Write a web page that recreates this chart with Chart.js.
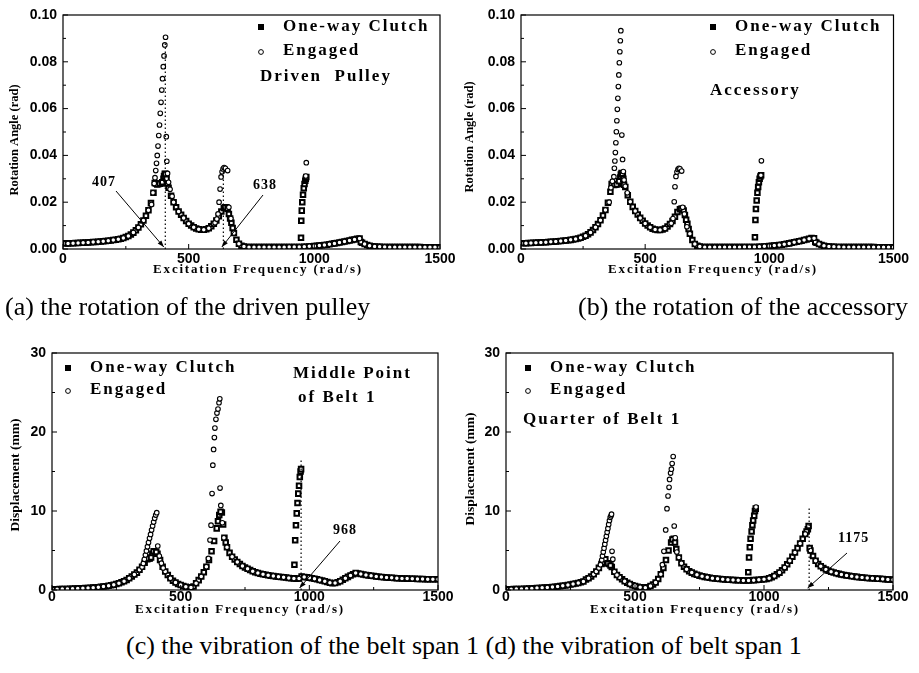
<!DOCTYPE html>
<html><head><meta charset="utf-8">
<script src="https://cdn.jsdelivr.net/npm/chart.js@4.4.1/dist/chart.umd.min.js"></script>
<style>
html,body{margin:0;padding:0;background:#fff;}
body{width:919px;height:673px;position:relative;overflow:hidden;}
canvas{position:absolute;}
.cap{position:absolute;font-family:"Liberation Serif","Times New Roman",serif;font-size:26px;color:#000;white-space:nowrap;line-height:30px;}
</style></head><body>
<canvas id="ca" width="460" height="282" style="left:0px;top:0px"></canvas>
<canvas id="cb" width="459" height="282" style="left:460px;top:0px"></canvas>
<canvas id="cc" width="460" height="300" style="left:0px;top:320px"></canvas>
<canvas id="cd" width="459" height="300" style="left:460px;top:320px"></canvas>
<div class="cap" style="left:5px;top:292px">(a) the rotation of the driven pulley</div>
<div class="cap" style="left:578px;top:292px">(b) the rotation of the accessory</div>
<div class="cap" style="left:126px;top:631px">(c) the vibration of the belt span 1 (d) the vibration of belt span 1</div>
<script>
// ---------- categories (excitation frequency, rad/s) ----------
const freq10 = [
10,20,30,40,50,60,70,80,90,100,
110,120,130,140,150,160,170,180,190,200,
210,220,230,240,250,260,270,280,290,300,
310,320,330,340,350,360,370,380,390,400,
410,420,430,440,450,460,470,480,490,500,
510,520,530,540,550,560,570,580,590,600,
610,620,630,640,650,660,670,680,690,700,
710,720,730,740,750,760,770,780,790,800,
810,820,830,840,850,860,870,880,890,900,
910,920,930,940,950,960,970,980,990,1000,
1010,1020,1030,1040,1050,1060,1070,1080,1090,1100,
1110,1120,1130,1140,1150,1160,1170,1180,1190,1200,
1210,1220,1230,1240,1250,1260,1270,1280,1290,1300,
1310,1320,1330,1340,1350,1360,1370,1380,1390,1400,
1410,1420,1430,1440,1450,1460,1470,1480,1490,1500];
const freq20 = [
20,40,60,80,100,120,140,160,180,200,
220,240,260,280,300,320,340,360,380,400,
420,440,460,480,500,520,540,560,580,600,
620,640,660,680,700,720,740,760,780,800,
820,840,860,880,900,920,940,960,980,1000,
1020,1040,1060,1080,1100,1120,1140,1160,1180,1200,
1220,1240,1260,1280,1300,1320,1340,1360,1380,1400,
1420,1440,1460,1480,1500];

// ---------- (a) driven pulley, rotation angle (rad) ----------
const clutchA = [
.0024,.0024,.0025,.0025,.0026,.0026,.0027,.0027,.0028,.0028,
.0029,.0030,.0030,.0031,.0032,.0033,.0034,.0035,.0036,.0038,
.0040,.0042,.0044,.0047,.0051,.0056,.0062,.0070,.0080,.0092,
.0106,.0122,.0142,.0166,.0196,.0240,.0280,.0278,.0280,.0300,
.0318,.0262,.0228,.0200,.0178,.0160,.0146,.0132,.0120,.0108,
.0100,.0093,.0088,.0084,.0082,.0082,.0084,.0089,.0097,.0108,
.0122,.0140,.0160,.0175,.0178,.0150,.0112,.0068,.0040,.0022,
.0014,.0011,.0009,.0008,.0008,.0008,.0008,.0008,.0008,.0008,
.0008,.0008,.0008,.0008,.0008,.0008,.0008,.0008,.0008,.0009,
.0009,.0009,.0009,.0009,.0009,.0010,.0010,.0011,.0012,.0013,
.0014,.0015,.0016,.0017,.0018,.0020,.0022,.0024,.0026,.0028,
.0030,.0032,.0034,.0036,.0039,.0041,.0044,.0045,.0027,.0021,
.0017,.0014,.0012,.0011,.0010,.0010,.0009,.0009,.0009,.0008,
.0008,.0008,.0008,.0008,.0008,.0008,.0008,.0008,.0008,.0008,
.0008,.0008,.0007,.0007,.0007,.0007,.0007,.0007,.0007,.0007];
const clutchExtraXA = [365,375,385,395,402,405,408,412,415, 645,655,665,675, 946,947,948,950,952,955,958,961,964,966,968, 1185];
const clutchExtraA  = [.0282,.0276,.0279,.0285,.0312,.0322,.0320,.0300,.0280, .0178,.0172,.0130,.0090, .0007,.0048,.0121,.0164,.0200,.0232,.0260,.0278,.0292,.0300,.0308, .0030];
const engagedA = [
.0024,.0025,.0026,.0027,.0028,.0030,.0031,.0033,.0035,.0038,
.0042,.0047,.0056,.0070,.0092,.0122,.0166,null,null,null,
null,.0200,.0160,.0132,.0108,.0093,.0084,.0082,.0089,.0108,
null,null,null,.0068,.0022,.0011,.0008,.0008,.0008,.0008,
.0008,.0008,.0008,.0008,.0009,.0009,.0009,.0010,.0012,.0013,
.0015,.0017,.0020,.0024,.0028,.0032,.0036,.0041,.0045,.0021,
.0014,.0011,.0010,.0009,.0008,.0008,.0008,.0008,.0008,.0008,
.0008,.0007,.0007,.0007,.0007];
const engagedPeakXA = [352,358,363,366,369,372,375,378,381,384,387,390,393,396,399,402,405,408,411,413,416,420,426,434,
  605,612,617,621,625,629,633,637,641,646,655,660,668, 966,968];
const engagedPeakA  = [.0190,.0240,.0280,.0305,.0335,.0366,.0400,.0440,.0485,.0530,.0580,.0627,.0679,.0728,.0779,.0825,.0872,.0905,.0480,.0375,.0323,.0285,.0255,.0225,
  .0112,.0128,.0150,.0200,.0256,.0308,.0330,.0342,.0348,.0345,.0335,.0178,.0130, .0312,.0369];

// ---------- (b) accessory, rotation angle (rad) ----------
const clutchB = [
.0025,.0025,.0026,.0026,.0027,.0027,.0028,.0028,.0029,.0029,
.0030,.0031,.0031,.0032,.0033,.0034,.0035,.0036,.0037,.0039,
.0041,.0043,.0045,.0048,.0052,.0057,.0063,.0071,.0081,.0093,
.0107,.0123,.0143,.0167,.0198,.0245,.0277,.0275,.0278,.0305,
.0322,.0265,.0230,.0202,.0180,.0162,.0147,.0133,.0121,.0109,
.0100,.0093,.0087,.0083,.0081,.0081,.0083,.0088,.0096,.0107,
.0120,.0138,.0158,.0170,.0172,.0145,.0108,.0065,.0038,.0021,
.0014,.0011,.0009,.0008,.0008,.0008,.0008,.0008,.0008,.0008,
.0008,.0008,.0008,.0008,.0008,.0008,.0008,.0008,.0008,.0009,
.0009,.0009,.0009,.0009,.0009,.0010,.0010,.0011,.0012,.0013,
.0014,.0015,.0016,.0017,.0018,.0020,.0022,.0024,.0027,.0029,
.0031,.0033,.0035,.0038,.0041,.0044,.0047,.0046,.0027,.0021,
.0017,.0014,.0012,.0011,.0010,.0010,.0009,.0009,.0009,.0008,
.0008,.0008,.0008,.0008,.0008,.0008,.0008,.0008,.0008,.0008,
.0008,.0008,.0007,.0007,.0007,.0007,.0007,.0007,.0007,.0007];
const clutchExtraXB = [365,375,385,395,402,405,408,412,415, 645,655,665,675, 940,942,944,946,949,952,955,958,961,964,967, 1185];
const clutchExtraB  = [.0278,.0274,.0276,.0290,.0318,.0325,.0322,.0300,.0275, .0172,.0165,.0125,.0085, .0006,.0050,.0124,.0171,.0207,.0240,.0265,.0285,.0300,.0310,.0315, .0030];
const engagedB = [
.0025,.0026,.0027,.0028,.0029,.0031,.0032,.0034,.0036,.0039,
.0043,.0048,.0057,.0071,.0093,.0123,.0167,null,null,null,
null,.0202,.0162,.0133,.0109,.0093,.0083,.0081,.0088,.0107,
null,null,null,.0065,.0021,.0011,.0008,.0008,.0008,.0008,
.0008,.0008,.0008,.0008,.0009,.0009,.0009,.0010,.0012,.0013,
.0015,.0017,.0020,.0024,.0029,.0033,.0038,.0044,.0046,.0021,
.0014,.0011,.0010,.0009,.0008,.0008,.0008,.0008,.0008,.0008,
.0008,.0007,.0007,.0007,.0007];
const engagedPeakXB = [355,362,368,374,376,378,380,382,384,386,388,390,392,394,396,398,400,402,406,409,412,415,420,428,
  605,612,617,620,624,628,632,636,640,647,651,658,668, 966,968];
const engagedPeakB  = [.0200,.0262,.0290,.0309,.0345,.0376,.0412,.0454,.0501,.0548,.0597,.0644,.0694,.0744,.0796,.0843,.0890,.0933,.0487,.0383,.0331,.0295,.0268,.0240,
  .0110,.0130,.0202,.0266,.0310,.0329,.0340,.0345,.0343,.0333,.0178,.0150,.0095, .0315,.0377];

// ---------- (c) middle point of belt 1, displacement (mm) ----------
const clutchC = [
0.10,0.10,0.11,0.12,0.13,0.14,0.15,0.16,0.18,0.20,
0.21,0.22,0.24,0.26,0.28,0.30,0.33,0.36,0.40,0.44,
0.48,0.53,0.59,0.66,0.75,0.85,0.97,1.11,1.28,1.48,
1.72,1.95,2.20,2.55,2.95,3.45,3.90,4.00,4.60,4.85,
4.60,3.80,2.95,2.35,1.90,1.50,1.18,0.95,0.76,0.62,
0.50,0.42,0.36,0.32,0.45,0.85,1.25,1.70,2.25,2.95,
3.80,4.90,6.20,7.80,9.50,9.80,6.60,5.40,4.70,4.20,
3.85,3.55,3.30,3.05,2.85,2.68,2.52,2.38,2.26,2.15,
2.06,1.98,1.92,1.86,1.80,1.76,1.72,1.68,1.64,1.60,
1.57,1.53,1.50,1.47,1.42,1.45,1.70,1.65,1.60,1.55,
1.50,1.43,1.36,1.28,1.20,1.10,1.00,0.92,0.86,0.88,
0.98,1.12,1.30,1.48,1.66,1.84,2.00,2.15,2.10,2.02,
1.96,1.90,1.85,1.80,1.76,1.72,1.68,1.65,1.62,1.59,
1.56,1.54,1.52,1.50,1.48,1.46,1.45,1.44,1.43,1.42,
1.41,1.40,1.39,1.38,1.37,1.37,1.36,1.36,1.35,1.35];
const clutchExtraXC = [375,385,395,405, 645,655,665,675, 942,945,948,951,954,957,960,963,966,968];
const clutchExtraC  = [4.0,4.1,4.9,4.8, 8.7,9.9,8.3,6.0, 3.2,6.3,8.2,9.7,11.0,12.2,13.2,14.3,15.0,15.3];
const engagedC = [
0.10,0.12,0.14,0.16,0.20,0.22,0.26,0.30,0.36,0.44,
0.53,0.66,0.85,1.11,1.48,1.95,2.55,null,null,null,
null,2.35,1.50,0.95,0.62,0.42,0.32,0.85,1.70,2.95,
null,null,null,5.40,4.20,3.55,3.05,2.68,2.38,2.15,
1.98,1.86,1.76,1.68,1.60,1.53,1.47,1.45,1.65,1.55,
1.43,1.28,1.10,0.92,0.88,1.12,1.48,1.84,2.15,2.02,
1.90,1.80,1.72,1.65,1.59,1.54,1.50,1.46,1.44,1.42,
1.40,1.38,1.37,1.36,1.35];
const engagedPeakXC = [350,355,359,363,367,371,375,379,383,387,391,395,399,403,407,411,417,425,432,
  600,608,614,618,622,625,628,631,633,637,641,645,649,652,653,656,662,668];
const engagedPeakC  = [2.90,3.37,3.88,4.43,4.94,5.49,6.00,6.54,7.04,7.59,8.10,8.60,9.07,9.49,9.79,5.57,4.30,3.40,2.80,
  2.95,4.00,6.33,8.20,12.2,15.8,17.8,19.3,20.5,21.6,22.4,22.9,23.7,24.2,12.9,10.7,8.50,6.60];

// ---------- (d) quarter of belt 1, displacement (mm) ----------
const clutchD = [
0.10,0.10,0.11,0.12,0.13,0.14,0.16,0.17,0.19,0.20,
0.22,0.24,0.26,0.28,0.30,0.32,0.35,0.38,0.41,0.45,
0.49,0.53,0.58,0.63,0.70,0.76,0.82,0.89,0.98,1.08,
1.32,1.50,1.72,2.00,2.35,2.80,3.30,3.60,3.40,3.30,
2.90,2.30,1.90,1.60,1.35,1.12,0.92,0.75,0.60,0.50,
0.42,0.36,0.32,0.30,0.36,0.50,0.70,0.95,1.40,2.00,
2.80,3.80,5.00,6.00,6.50,5.20,4.10,3.40,2.95,2.62,
2.38,2.20,2.04,1.92,1.82,1.74,1.66,1.60,1.54,1.50,
1.46,1.42,1.39,1.36,1.33,1.31,1.29,1.27,1.25,1.24,
1.22,1.21,1.20,1.20,1.22,1.25,1.28,1.30,1.32,1.35,
1.40,1.50,1.62,1.78,1.98,2.20,2.50,2.85,3.25,3.70,
4.20,4.75,5.30,5.90,6.50,7.10,7.70,5.00,4.30,3.70,
3.30,3.00,2.78,2.60,2.45,2.32,2.22,2.12,2.04,1.97,
1.90,1.84,1.79,1.74,1.70,1.66,1.62,1.59,1.56,1.53,
1.50,1.48,1.45,1.43,1.41,1.38,1.36,1.34,1.32,1.30];
const clutchExtraXD = [375,385,395,405, 645,655, 939,942,945,948,952,955,958,962,965,968, 1165,1173,1177];
const clutchExtraD  = [3.5,3.9,3.4,3.1, 6.4,6.0, 2.24,4.1,5.4,6.5,7.4,8.2,8.8,9.4,10.0,10.3, 7.4,8.1,5.3];
const engagedD = [
0.10,0.12,0.14,0.17,0.20,0.24,0.28,0.32,0.38,0.45,
0.53,0.63,0.76,0.89,1.08,1.50,2.00,null,null,null,
null,1.60,1.12,0.75,0.50,0.36,0.30,0.50,0.95,2.00,
null,null,null,3.40,2.62,2.20,1.92,1.74,1.60,1.50,
1.42,1.36,1.31,1.27,1.24,1.21,1.20,1.25,1.30,1.35,
1.50,1.78,2.20,2.85,3.70,4.75,5.90,7.10,5.00,3.70,
3.00,2.60,2.32,2.12,1.97,1.84,1.74,1.66,1.59,1.53,
1.48,1.43,1.38,1.34,1.30];
const engagedPeakXD = [350,360,366,371,374,377,380,383,386,389,392,395,398,401,404,407,409,411,414,420,430,
  600,606,612,619,624,628,632,634,638,641,644,648,652,656,662,670, 969];
const engagedPeakD  = [2.35,2.80,3.20,3.80,4.30,4.80,5.30,5.80,6.30,6.80,7.30,7.80,8.30,8.80,9.20,9.40,9.60,4.90,3.90,2.30,1.90,
  2.00,3.20,4.90,7.60,10.3,11.9,13.0,14.0,14.8,15.3,16.0,16.9,8.10,6.60,4.80,4.10, 10.5];

// ---------- tick values ----------
const xTickLabels = [0, 500, 1000, 1500];
const xMinorTicks = [250, 750, 1250];
const yTicksAngle = [0, 0.02, 0.04, 0.06, 0.08, 0.10];
const yMinorAngle = [0.01, 0.03, 0.05, 0.07, 0.09];
const yTicksDisp = [0, 10, 20, 30];
const yMinorDisp = [5, 15, 25];

function pts(xs, ys) {
  const out = [];
  for (let i = 0; i < xs.length && i < ys.length; i++) {
    if (ys[i] !== null && ys[i] !== undefined) out.push({x: xs[i], y: ys[i]});
  }
  return out;
}

const SERIF = '"Liberation Serif","Times New Roman",serif';
const SANS = '"Liberation Sans",Arial,sans-serif';

const panels = [
  { id:'ca', W:460, H:282, area:{left:63, top:15, right:440, bottom:249}, yMax:0.10, yTicks:yTicksAngle, yMinor:yMinorAngle, dec:2,
    clutch: pts(freq10, clutchA).concat(pts(clutchExtraXA, clutchExtraA)),
    engaged: pts(freq20, engagedA).concat(pts(engagedPeakXA, engagedPeakA)),
    xPad:2, yPad:6,
    yTitle:{text:'Rotation Angle (rad)', x:15, y:140, size:12.5},
    xTitle:{x:258, y:270},
    legend:{x:261, y1:27, y2:52},
    labels:[{text:'Driven  Pulley', x:260, y:77}],
    dotted:[{f:407, top:0.088}, {f:638, top:0.0345}],
    notes:[{text:'407', f:407, tx:92, ty:182, sx:116, sy:191}, {text:'638', f:638, tx:253, ty:185, sx:263, sy:195}] },
  { id:'cb', W:459, H:282, area:{left:61, top:15, right:433.5, bottom:249}, yMax:0.10, yTicks:yTicksAngle, yMinor:yMinorAngle, dec:2,
    clutch: pts(freq10, clutchB).concat(pts(clutchExtraXB, clutchExtraB)),
    engaged: pts(freq20, engagedB).concat(pts(engagedPeakXB, engagedPeakB)),
    xPad:2, yPad:6,
    yTitle:{text:'Rotation Angle (rad)', x:10, y:137, size:12.5},
    xTitle:{x:253, y:270},
    legend:{x:253, y1:27, y2:52},
    labels:[{text:'Accessory', x:250, y:91}],
    dotted:[], notes:[] },
  { id:'cc', W:460, H:300, area:{left:52, top:33, right:438, bottom:270}, yMax:30, yTicks:yTicksDisp, yMinor:yMinorDisp, dec:0,
    clutch: pts(freq10, clutchC).concat(pts(clutchExtraXC, clutchExtraC)),
    engaged: pts(freq20, engagedC).concat(pts(engagedPeakXC, engagedPeakC)),
    xPad:-1, yPad:6,
    yTitle:{text:'Displacement (mm)', x:16, y:155, size:13.5},
    xTitle:{x:240, y:290},
    legend:{x:68, y1:48, y2:71},
    labels:[{text:'Middle Point', x:293, y:54}, {text:'of Belt 1', x:298, y:78}],
    dotted:[{f:968, top:16.7}],
    notes:[{text:'968', f:968, tx:333, ty:210, sx:340, sy:221}] },
  { id:'cd', W:459, H:300, area:{left:46, top:33, right:433, bottom:270}, yMax:30, yTicks:yTicksDisp, yMinor:yMinorDisp, dec:0,
    clutch: pts(freq10, clutchD).concat(pts(clutchExtraXD, clutchExtraD)),
    engaged: pts(freq20, engagedD).concat(pts(engagedPeakXD, engagedPeakD)),
    xPad:-1, yPad:6,
    yTitle:{text:'Displacement (mm)', x:11, y:149, size:13.5},
    xTitle:{x:235, y:290},
    legend:{x:68, y1:48, y2:71},
    labels:[{text:'Quarter of Belt 1', x:63, y:100}],
    dotted:[{f:1175, top:10.5}],
    notes:[{text:'1175', f:1175, tx:378, ty:218, sx:387, sy:233}] }
];

function spaced(ctx, ls) { try { ctx.letterSpacing = ls + 'px'; } catch (e) {} }

function panelPlugin(p) {
  return {
    id: 'panel_' + p.id,
    afterDraw(chart) {
      const ctx = chart.ctx, a = chart.chartArea, xs = chart.scales.x, ys = chart.scales.y;
      const line = (x1, y1, x2, y2) => { ctx.beginPath(); ctx.moveTo(x1, y1); ctx.lineTo(x2, y2); ctx.stroke(); };
      ctx.save();
      ctx.strokeStyle = '#000'; ctx.fillStyle = '#000';
      ctx.lineWidth = 1.2;
      ctx.strokeRect(a.left, a.top, a.right - a.left, a.bottom - a.top);
      ctx.lineWidth = 1;
      xTickLabels.forEach(v => { const x = xs.getPixelForValue(v); line(x, a.bottom, x, a.bottom - 5); });
      xMinorTicks.forEach(v => { const x = xs.getPixelForValue(v); line(x, a.bottom, x, a.bottom - 3); });
      p.yTicks.forEach(v => { const y = ys.getPixelForValue(v); line(a.left, y, a.left + 5, y); });
      p.yMinor.forEach(v => { const y = ys.getPixelForValue(v); line(a.left, y, a.left + 3, y); });
      ctx.setLineDash([1.4, 2.6]); ctx.lineWidth = 1.2;
      p.dotted.forEach(d => { const x = xs.getPixelForValue(d.f); line(x, ys.getPixelForValue(0), x, ys.getPixelForValue(d.top)); });
      ctx.setLineDash([]);
      p.notes.forEach(n => {
        const tx = xs.getPixelForValue(n.f) - 1.5, ty = ys.getPixelForValue(0) - 2;
        ctx.lineWidth = 1;
        line(n.sx, n.sy, tx, ty);
        const ang = Math.atan2(ty - n.sy, tx - n.sx), L = 7, w = 0.35;
        ctx.beginPath(); ctx.moveTo(tx, ty);
        ctx.lineTo(tx - L * Math.cos(ang - w), ty - L * Math.sin(ang - w));
        ctx.lineTo(tx - L * Math.cos(ang + w), ty - L * Math.sin(ang + w));
        ctx.closePath(); ctx.fill();
        ctx.font = 'bold 14px ' + SERIF; spaced(ctx, 1);
        ctx.textAlign = 'left'; ctx.textBaseline = 'middle';
        ctx.fillText(n.text, n.tx, n.ty);
      });
      const lg = p.legend;
      ctx.fillRect(lg.x - 3, lg.y1 - 3, 6, 6);
      ctx.lineWidth = 1;
      ctx.beginPath(); ctx.arc(lg.x, lg.y2, 2.4, 0, Math.PI * 2); ctx.stroke();
      ctx.font = 'bold 17px ' + SERIF; spaced(ctx, 2);
      ctx.textAlign = 'left'; ctx.textBaseline = 'middle';
      ctx.fillText('One-way Clutch', lg.x + 22, lg.y1);
      ctx.fillText('Engaged', lg.x + 22, lg.y2 - 1);
      p.labels.forEach(l => ctx.fillText(l.text, l.x, l.y));
      ctx.font = 'bold 13px ' + SERIF; spaced(ctx, 1.8);
      ctx.textAlign = 'center';
      ctx.fillText('Excitation Frequency (rad/s)', p.xTitle.x, p.xTitle.y);
      spaced(ctx, 0);
      ctx.translate(p.yTitle.x, p.yTitle.y); ctx.rotate(-Math.PI / 2);
      ctx.font = 'bold ' + p.yTitle.size + 'px ' + SERIF;
      ctx.fillText(p.yTitle.text, 0, 0);
      ctx.restore();
    }
  };
}

panels.forEach(p => {
  new Chart(document.getElementById(p.id), {
    type: 'scatter',
    data: { datasets: [
      { label: 'One-way Clutch', data: p.clutch, pointStyle: 'rect', pointRadius: 3.2, borderColor: '#000',
        backgroundColor: '#fff', borderWidth: 2, order: 2 },
      { label: 'Engaged', data: p.engaged, pointStyle: 'circle', pointRadius: 2.3, borderColor: '#000',
        backgroundColor: '#fff', borderWidth: 1.1, order: 1 }
    ]},
    options: {
      animation: false, responsive: false, devicePixelRatio: 1,
      events: [],
      layout: { padding: { left: 0, top: p.area.top, right: p.W - p.area.right, bottom: 0 } },
      plugins: { legend: { display: false }, tooltip: { enabled: false } },
      elements: { point: { hoverRadius: 0 } },
      scales: {
        x: { type: 'linear', min: 0, max: 1500,
          afterBuildTicks: s => { s.ticks = xTickLabels.map(v => ({value: v})); },
          ticks: { color: '#000', font: { family: SANS, weight: 'bold', size: 14 }, padding: p.xPad, maxRotation: 0, autoSkip: false,
            callback: v => String(v) },
          grid: { display: false, drawTicks: false, tickLength: 0 }, border: { display: false },
          afterFit: s => { s.height = p.H - p.area.bottom; } },
        y: { type: 'linear', min: 0, max: p.yMax,
          afterBuildTicks: s => { s.ticks = p.yTicks.map(v => ({value: v})); },
          ticks: { color: '#000', font: { family: SANS, weight: 'bold', size: 14 }, padding: p.yPad,
            callback: v => Number(v).toFixed(p.dec) },
          grid: { display: false, drawTicks: false, tickLength: 0 }, border: { display: false },
          afterFit: s => { s.width = p.area.left; } }
      }
    },
    plugins: [panelPlugin(p)]
  });
});
</script>
</body></html>
